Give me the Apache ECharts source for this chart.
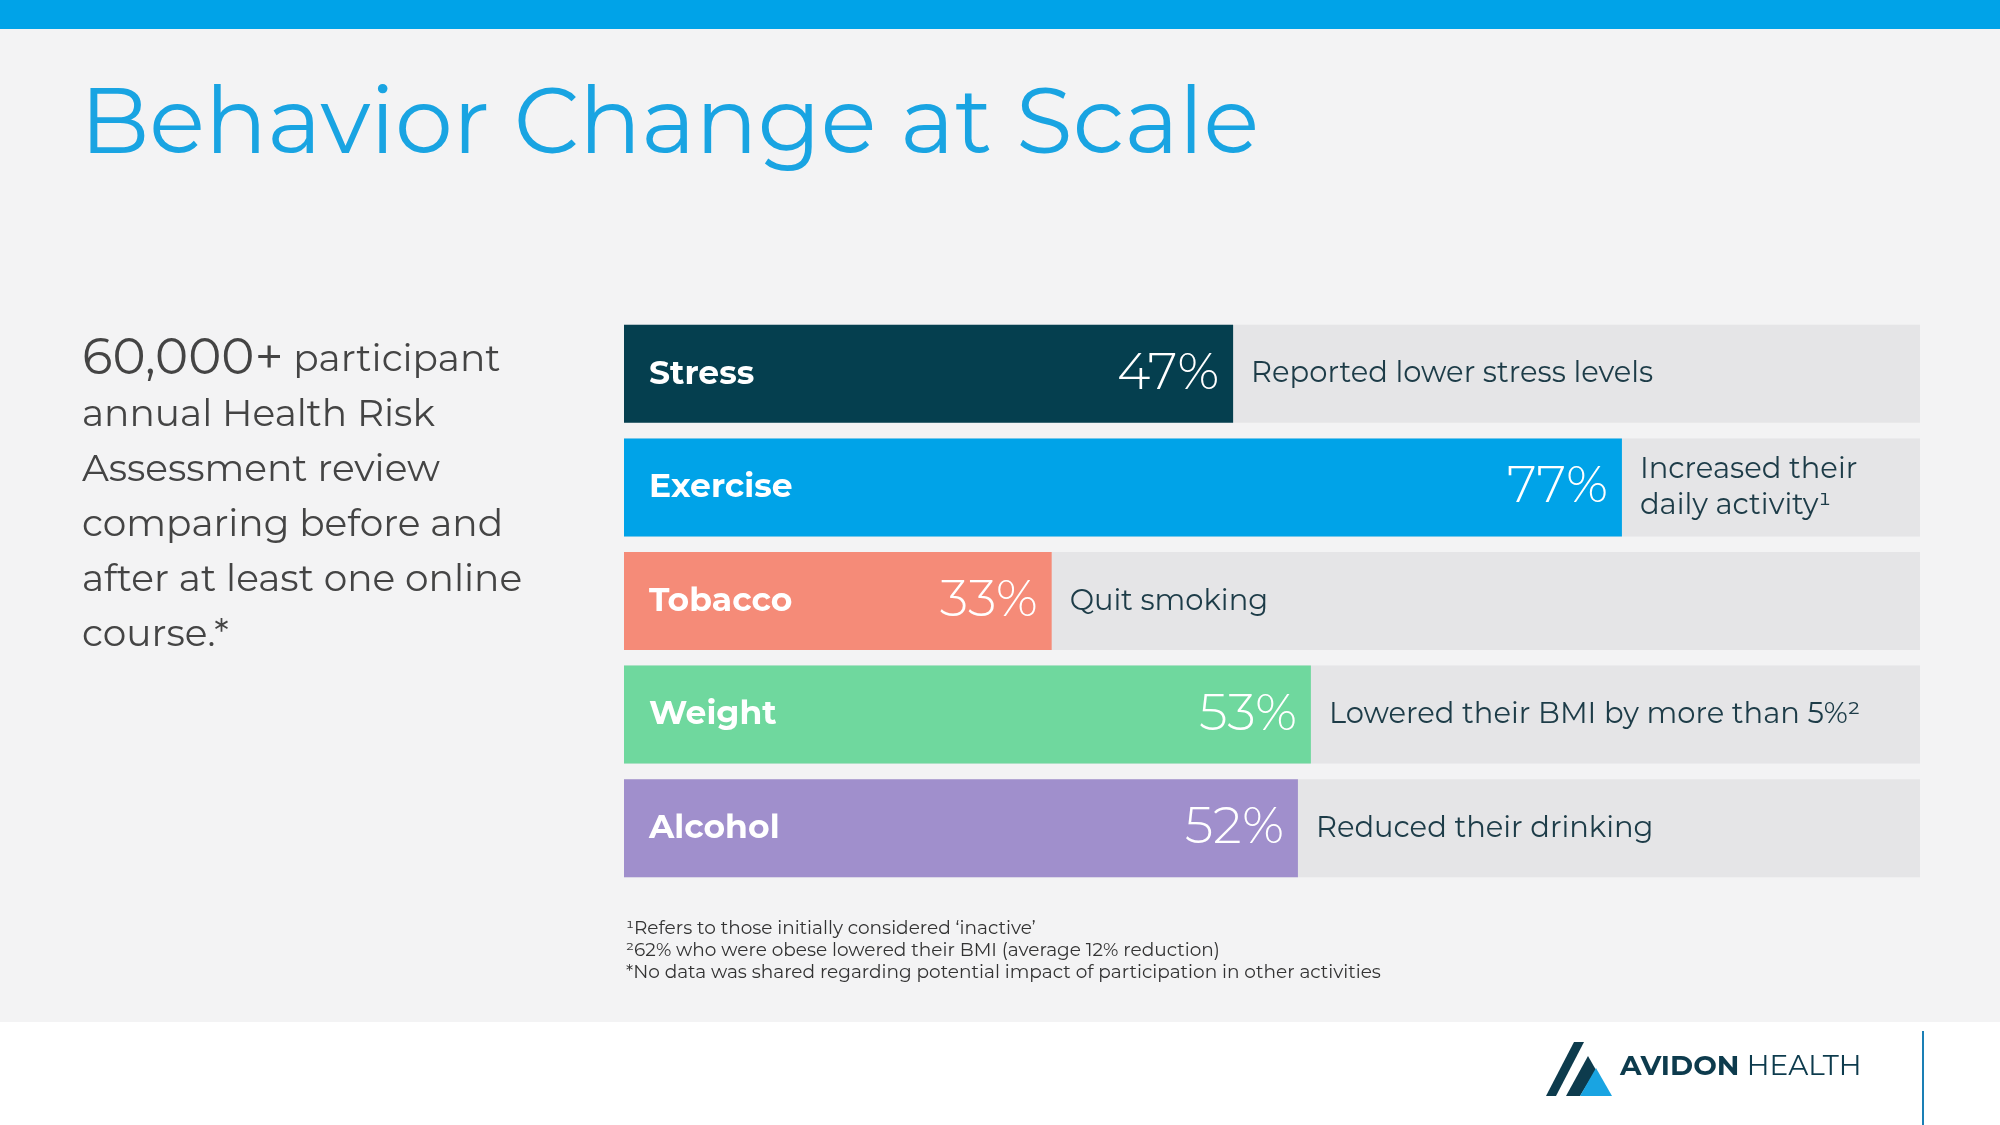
<!DOCTYPE html>
<html><head><meta charset="utf-8">
<script src="https://cdn.jsdelivr.net/npm/echarts@6/dist/echarts.min.js"></script>
<style>html,body{margin:0;padding:0;background:#fff}#c{width:2000px;height:1125px}</style>
</head><body><div id="c"></div>
<script>
const categories = ['Stress','Exercise','Tobacco','Weight','Alcohol'];
const values = [47,77,33,53,52];
const descriptions = ['Reported lower stress levels','Increased their\ndaily activity¹','Quit smoking','Lowered their BMI by more than 5%²','Reduced their drinking'];
const colors = ['#053f4f','#00a3e8','#f58b78','#6fd89e','#a08fcc'];
const footnotes = ['¹Refers to those initially considered \u2018inactive\u2019','²62% who were obese lowered their BMI (average 12% reduction)','*No data was shared regarding potential impact of participation in other activities'];
const FONT = 'Montserrat, Inter, "Open Sans", sans-serif';
const chart = echarts.init(document.getElementById('c'));
chart.setOption({
  backgroundColor: '#f3f3f4',
  animation: false,
  grid: {left: 624, width: 1296, top: 317, height: 568},
  xAxis: {type: 'value', min: 0, max: 100, show: false},
  yAxis: {type: 'category', data: categories, inverse: true, show: false},
  series: [
    {type: 'bar', data: categories.map(() => 100), barWidth: 98, itemStyle: {color: 'rgba(220,220,222,0.6)'}, silent: true},
    {type: 'bar', data: values.map((v, i) => ({value: v, itemStyle: {color: colors[i]}})), barWidth: 98, barGap: '-100%',
      label: {show: true, position: 'insideRight', distance: 14, formatter: p => p.value + '%', color: '#fff', fontSize: 51, fontWeight: 300, fontFamily: FONT}},
    {type: 'bar', data: values, barWidth: 98, barGap: '-100%', itemStyle: {color: 'transparent'},
      label: {show: true, position: 'insideLeft', distance: 25, formatter: p => categories[p.dataIndex], color: '#fff', fontSize: 33, fontWeight: 'bold', fontFamily: FONT}},
    {type: 'bar', data: values, barWidth: 98, barGap: '-100%', itemStyle: {color: 'transparent'},
      label: {show: true, position: 'right', distance: 18, formatter: p => descriptions[p.dataIndex], color: '#1d3c48', fontSize: 29, lineHeight: 36, fontFamily: FONT}}
  ],
  graphic: [
    {type: 'rect', shape: {x: 0, y: 0, width: 2000, height: 29}, style: {fill: '#00a3e8'}},
    {type: 'rect', shape: {x: 0, y: 1022, width: 2000, height: 103}, style: {fill: '#ffffff'}},
    {type: 'rect', shape: {x: 1922, y: 1031, width: 2, height: 94}, style: {fill: '#1a7fb5'}},
    {type: 'text', left: 80, top: 80, style: {text: 'Behavior Change at Scale', fill: '#19a4e2', fontSize: 92, fontFamily: FONT}},
    {type: 'text', left: 82, top: 332, style: {
      text: '{big|60,000+} participant\nannual Health Risk\nAssessment review\ncomparing before and\nafter at least one online\ncourse.*',
      fill: '#444', fontSize: 37.5, lineHeight: 55, fontFamily: FONT,
      rich: {big: {fontSize: 50, fill: '#444', fontFamily: FONT}}}},
    {type: 'text', left: 626, top: 918, style: {text: footnotes.join('\n'), fill: '#333', fontSize: 18.5, lineHeight: 22, fontFamily: FONT}},
    {type: 'polygon', shape: {points: [[1546,1096],[1574,1042],[1584,1042],[1556,1096]]}, style: {fill: '#0d3b4d'}},
    {type: 'polygon', shape: {points: [[1566,1096],[1588,1056],[1596,1070],[1580,1096]]}, style: {fill: '#0d3b4d'}},
    {type: 'polygon', shape: {points: [[1580,1096],[1596,1068],[1612,1096]]}, style: {fill: '#19a4e2'}},
    {type: 'text', left: 1620, top: 1053, style: {text: '{b|AVIDON} HEALTH', fill: '#0d3b4d', fontSize: 28, fontFamily: FONT,
      rich: {b: {fontWeight: 'bold', fontSize: 28, fill: '#0d3b4d', fontFamily: FONT}}}}
  ]
});
</script></body></html>
